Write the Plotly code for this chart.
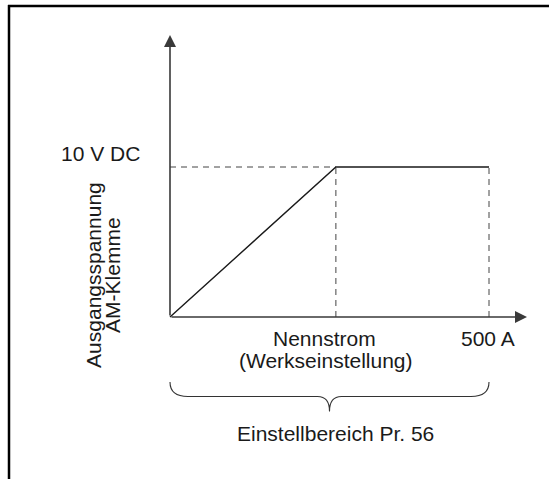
import plotly.graph_objects as go

W, H = 549, 479

# ---- data (schematic characteristic) ----
current_A = [0, 260, 500]      # origin, Nennstrom (Werkseinstellung), 500 A
voltage_V = [0, 10, 10]        # output voltage at AM terminal
nenn_A = current_A[1]
max_A = current_A[2]
max_V = voltage_V[1]

x_tick_labels = ["Nennstrom", "(Werkseinstellung)", "500 A"]
y_tick_label = "10 V DC"
y_title_lines = ["Ausgangsspannung", "AM-Klemme"]
range_label = "Einstellbereich Pr. 56"

# ---- axis scaling (pixel layout of the figure) ----
X0_PX, XMAX_PX = 170, 489
Y0_PX, YMAX_PX = 317, 167
sx = (XMAX_PX - X0_PX) / max_A
sy = (Y0_PX - YMAX_PX) / max_V
xmin = -X0_PX / sx
xmax = xmin + W / sx
ymax = Y0_PX / sy
ymin = ymax - H / sy


def dx(p):  # pixel distance -> data (x)
    return p / sx


def dy(p):  # pixel distance -> data (y)
    return p / sy


def px_x(p):
    return xmin + p / sx


def px_y(p):
    return ymax - p / sy


FONT = dict(family="Liberation Sans, Arial, sans-serif", size=21, color="#1a1a1a")
AXC = "#3a3a3a"

fig = go.Figure()

# dashed guide lines
fig.add_trace(go.Scatter(
    x=[0, nenn_A], y=[max_V, max_V], mode="lines",
    line=dict(color="#444", width=1, dash="6px,5px"), hoverinfo="skip"))
fig.add_trace(go.Scatter(
    x=[nenn_A, nenn_A, None, max_A, max_A], y=[0, max_V, None, 0, max_V], mode="lines",
    line=dict(color="#444", width=1, dash="6px,5px"), hoverinfo="skip"))

# characteristic
fig.add_trace(go.Scatter(
    x=current_A, y=voltage_V, mode="lines",
    line=dict(color="#1a1a1a", width=1.4), hoverinfo="skip"))

annotations = []
# axes with arrowheads
annotations.append(dict(x=0, y=px_y(35), ax=0, ay=0, xref="x", yref="y", axref="x", ayref="y",
                        showarrow=True, arrowhead=2, arrowsize=1.5, arrowwidth=1.6,
                        arrowcolor=AXC, text="", standoff=0))
annotations.append(dict(x=px_x(527), y=0, ax=0, ay=0, xref="x", yref="y", axref="x", ayref="y",
                        showarrow=True, arrowhead=2, arrowsize=1.5, arrowwidth=1.6,
                        arrowcolor=AXC, text="", standoff=0))

# labels
annotations.append(dict(x=100.5 / W, y=1 - 153.7 / H, xref="paper", yref="paper",
                        text=y_tick_label, showarrow=False, font=FONT,
                        xanchor="center", yanchor="middle"))
annotations.append(dict(x=nenn_A, y=1 - 338.4 / H, xref="x", yref="paper", xshift=-11,
                        text=x_tick_labels[0], showarrow=False, font=FONT,
                        xanchor="center", yanchor="middle"))
annotations.append(dict(x=nenn_A, y=1 - 360.4 / H, xref="x", yref="paper", xshift=-10,
                        text=x_tick_labels[1], showarrow=False, font=FONT,
                        xanchor="center", yanchor="middle"))
annotations.append(dict(x=max_A, y=1 - 338.4 / H, xref="x", yref="paper", xshift=-1.5,
                        text=x_tick_labels[2], showarrow=False, font=FONT,
                        xanchor="center", yanchor="middle"))
annotations.append(dict(x=max_A / 2, y=1 - 433.4 / H, xref="x", yref="paper", xshift=6,
                        text=range_label, showarrow=False, font=FONT,
                        xanchor="center", yanchor="middle"))
annotations.append(dict(x=92.9 / W, y=1 - 275 / H, xref="paper", yref="paper",
                        text=y_title_lines[0], textangle=-90, showarrow=False, font=FONT,
                        xanchor="center", yanchor="middle"))
annotations.append(dict(x=111.9 / W, y=1 - 275 / H, xref="paper", yref="paper",
                        text=y_title_lines[1], textangle=-90, showarrow=False, font=FONT,
                        xanchor="center", yanchor="middle"))

# curly brace under the x range 0 .. 500 A
bt = -dy(382 - Y0_PX)
bm = -dy(396.5 - Y0_PX)
bb = -dy(411.4 - Y0_PX)
xm = max_A / 2
r1 = dx(18)
r2 = dx(12)
brace = (f"M {0},{bt} Q {0},{bm} {r1},{bm} L {xm - r2},{bm} "
         f"Q {xm},{bm} {xm},{bb} Q {xm},{bm} {xm + r2},{bm} "
         f"L {max_A - r1},{bm} Q {max_A},{bm} {max_A},{bt}")

shapes = [
    dict(type="path", path=brace, xref="x", yref="y", line=dict(color="#333", width=1.1)),
    # frame (top and left)
    dict(type="line", xref="paper", yref="paper", x0=8 / W, x1=1, y0=1 - 6 / H, y1=1 - 6 / H,
         line=dict(color="black", width=2.5)),
    dict(type="line", xref="paper", yref="paper", x0=9 / W, x1=9 / W, y0=1 - 5 / H, y1=0,
         line=dict(color="black", width=2.5)),
]

fig.update_layout(
    width=W, height=H, margin=dict(l=0, r=0, t=0, b=0),
    paper_bgcolor="white", plot_bgcolor="white", showlegend=False,
    xaxis=dict(range=[xmin, xmax], visible=False, fixedrange=True),
    yaxis=dict(range=[ymin, ymax], visible=False, fixedrange=True),
    annotations=annotations, shapes=shapes,
)

fig.write_html(
    "out.html",
    config={"displayModeBar": False, "staticPlot": True},
    post_script="document.body.style.margin='0';document.body.style.overflow='hidden';",
)
